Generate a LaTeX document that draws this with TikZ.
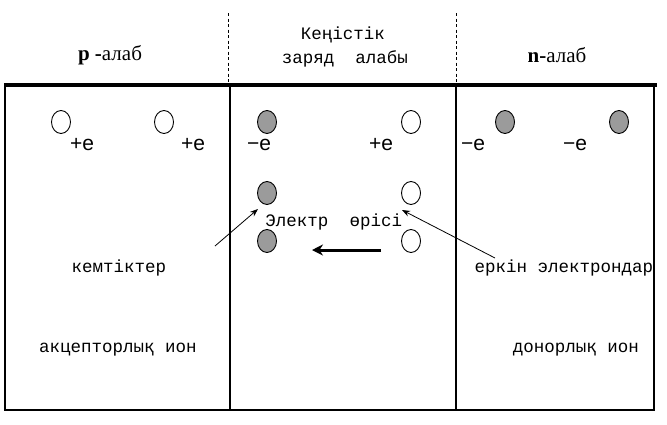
\documentclass[tikz,border=0pt]{standalone}
\usepackage{fontspec}
\setmainfont{Liberation Serif}
\newfontfamily\monof{Liberation Mono}
\newfontfamily\sansf{Liberation Sans}
\usetikzlibrary{arrows.meta,shapes.geometric}
\definecolor{ballgray}{RGB}{155,155,155}
\begin{document}
\begin{tikzpicture}[x=1pt,y=-1pt,
  lbl/.style={font=\monof\fontsize{17.5}{20}\selectfont, inner sep=0pt},
  chg/.style={font=\sansf\fontsize{21}{24}\selectfont, inner sep=0pt},
  head/.style={font=\fontsize{21}{24}\selectfont, inner sep=0pt},
  hole/.style={ellipse, draw, line width=0.9pt, minimum width=19pt, minimum height=23pt, inner sep=0pt, fill=white},
  ion/.style={hole, fill=ballgray},
  sep/.style={line width=0.9pt, dash pattern=on 3pt off 2.5pt},
  thin arrow/.style={line width=0.8pt, -{Stealth[length=8pt,width=6pt]}},
  field arrow/.style={line width=3pt, -{Stealth[length=11pt,width=11pt]}}]
\useasboundingbox (0,0) rectangle (667,424);
% frame
\draw[line width=1.5pt] (5,85) -- (5,410);
\draw[line width=2pt] (229.5,85) -- (229.5,410);
\draw[line width=2pt] (455.5,85) -- (455.5,410);
\draw[line width=2.5pt] (654,85) -- (654,411.2);
\draw[line width=2.5pt] (4.25,410) -- (655,410);
\draw[line width=4pt] (4,85) -- (656.5,85);
% dashed separators
\draw[sep] (228.5,13) -- (228.5,83);
\draw[sep] (456,13) -- (456,83);
% headers
\node[head] (ph) at (110,55) {\textbf{p} \textbf{-}алаб};
\node[lbl] (sc1) at (343,35) {Кеңістік};
\node[lbl] (sc2) at (345,59) {заряд\ \ алабы};
\node[head] (nh) at (557,55) {\textbf{n-}алаб};
% row 1
\node[hole] (h1) at (61,122) {};
\node[hole] (h2) at (164,122) {};
\node[ion] (i1) at (267,122) {};
\node[hole] (h3) at (411,122) {};
\node[ion] (i2) at (505,122) {};
\node[ion] (i3) at (619,122) {};
\node[chg] (c1) at (82,145) {+e};
\node[chg] (c2) at (193,145) {+e};
\node[chg] (c3) at (259,145) {−e};
\node[chg] (c4) at (381,145) {+e};
\node[chg] (c5) at (473,145) {−e};
\node[chg] (c6) at (575,145) {−e};
% rows 2-3
\node[ion] (i4) at (267,193) {};
\node[hole] (h4) at (411,193) {};
\node[ion] (i5) at (267,241) {};
\node[hole] (h5) at (411,241) {};
\node[lbl] (el) at (297,222) {Электр};
\node[lbl] (er) at (376,222) {өрісі};
\coordinate (fa) at (381,250);
\coordinate (fb) at (312,250);
\draw[field arrow] (fa) -- (fb);
% labels
\node[lbl] (kem) at (119,268) {кемтіктер};
\node[lbl] (erk) at (564,268) {еркін электрондар};
\node[lbl] (acc) at (118,350) {акцепторлық ион};
\node[lbl] (don) at (576,350) {донорлық ион};
\coordinate (la) at (215,246);
\coordinate (lb) at (258,209);
\coordinate (ra) at (495,258);
\coordinate (rb) at (402,210);
\draw[thin arrow] (la) -- (lb);
\draw[thin arrow] (ra) -- (rb);
\end{tikzpicture}
\end{document}
